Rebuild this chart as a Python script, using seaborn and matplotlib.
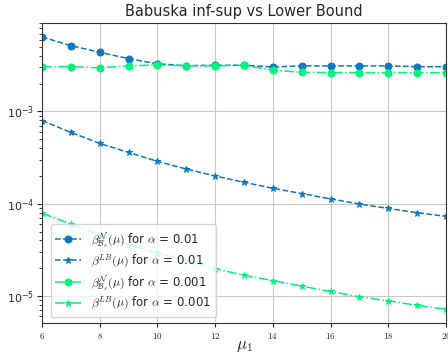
import numpy as np
import pandas as pd
import seaborn as sns
import matplotlib
matplotlib.use("Agg")
import matplotlib.pyplot as plt

mu = [6, 7, 8, 9, 10, 11, 12, 13, 14, 15, 16, 17, 18, 19, 20]
beta_n_001 = [6.43e-3, 5.17e-3, 4.38e-3, 3.74e-3, 3.28e-3, 3.14e-3, 3.17e-3, 3.17e-3,
              3.04e-3, 3.12e-3, 3.12e-3, 3.12e-3, 3.12e-3, 3.06e-3, 3.06e-3]
beta_lb_001 = [7.98e-4, 5.93e-4, 4.51e-4, 3.60e-4, 2.88e-4, 2.38e-4, 2.00e-4, 1.71e-4,
               1.47e-4, 1.29e-4, 1.13e-4, 9.93e-5, 8.9e-5, 8.0e-5, 7.3e-5]
beta_n_0001 = [3.06e-3, 3.06e-3, 2.97e-3, 3.12e-3, 3.20e-3, 3.12e-3, 3.12e-3, 3.17e-3,
               2.80e-3, 2.66e-3, 2.64e-3, 2.64e-3, 2.64e-3, 2.64e-3, 2.64e-3]
beta_lb_0001 = [7.92e-5, 6.02e-5, 4.6e-5, 3.6e-5, 2.91e-5, 2.42e-5, 1.98e-5, 1.68e-5,
                1.47e-5, 1.28e-5, 1.12e-5, 9.8e-6, 8.9e-6, 7.9e-6, 7.2e-6]
xticks = [6, 8, 10, 12, 14, 16, 18, 20]

labels = [r"$\beta^{\mathcal{N}}_{\mathcal{B}_s}(\mu)$ for $\alpha$ = 0.01",
          r"$\beta^{LB}(\mu)$ for $\alpha$ = 0.01",
          r"$\beta^{\mathcal{N}}_{\mathcal{B}_s}(\mu)$ for $\alpha$ = 0.001",
          r"$\beta^{LB}(\mu)$ for $\alpha$ = 0.001"]

sns.set_style("ticks")
plt.rcParams["mathtext.fontset"] = "cm"
plt.rcParams["font.family"] = ["DejaVu Sans"]

blue = "#0a78c2"
green = "#00f57a"

fig = plt.figure(figsize=(4.48, 3.54), dpi=100)
ax = fig.add_axes([42/448, 31/354, 404/448, 300/354])

series = [beta_n_001, beta_lb_001, beta_n_0001, beta_lb_0001]
colors = [blue, blue, green, green]
styles = ["--", "--", "-.", "-."]
markers = ["o", "*", "o", "*"]
for vals, lab, c, ls, m in zip(series, labels, colors, styles, markers):
    df = pd.DataFrame({"mu": mu, "beta": vals})
    sns.lineplot(data=df, x="mu", y="beta", ax=ax, color=c, linestyle=ls,
                 marker=m, markersize=5, markeredgecolor=c, label=lab, lw=1.1)

ax.set_yscale("log")
ax.set_xlim(6, 20)
ax.set_ylim(5.1e-6, 9.1e-3)
ax.set_xticks(xticks)
ax.set_xticklabels([r"$%d$" % v for v in xticks])
ax.tick_params(axis="x", labelsize=6.5, pad=2.5, length=3)
ax.tick_params(axis="y", labelsize=8, pad=2)
ax.grid(True, which="major", color="#c8c8c8", lw=0.8)
ax.set_title("Babuska inf-sup vs Lower Bound", fontsize=10.5, pad=5)
ax.set_xlabel(r"$\mu_1$", fontsize=12, labelpad=-3)
ax.set_ylabel("")
for s in ax.spines.values():
    s.set_color("#333333")
leg = ax.legend(loc="lower left", fontsize=8.5, frameon=True, bbox_to_anchor=(0.007, 0.0),
                handlelength=2.2, labelspacing=0.2, borderpad=0.4)
fig.savefig("out.png", dpi=100)
